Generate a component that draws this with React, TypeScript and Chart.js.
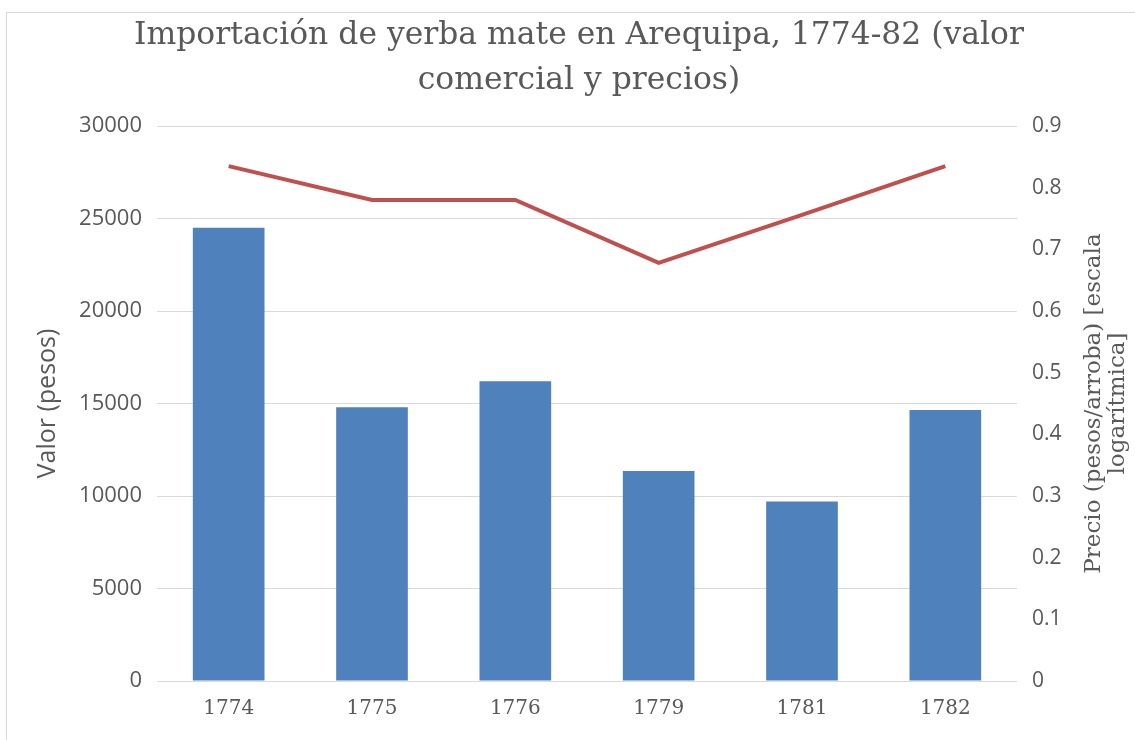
import React, { useEffect, useRef } from 'react';
import { Chart, registerables } from 'chart.js';

Chart.register(...registerables);

const categories = ['1774', '1775', '1776', '1779', '1781', '1782'];
const valorPesos = [24500, 14800, 16200, 11350, 9700, 14650];
const precio = [0.835, 0.78, 0.78, 0.678, 0.756, 0.835];
const titleLines = ['Importación de yerba mate en Arequipa, 1774-82 (valor', 'comercial y precios)'];
const leftTitle = 'Valor (pesos)';
const rightTitleLines = ['Precio (pesos/arroba) [escala', 'logarítmica]'];

const CANVAS_W = 1158;
const CANVAS_H = 740;
const AREA_LEFT = 157;
const AREA_RIGHT = 1017;
const AREA_BOTTOM = 681;
const GREY = '#595959';

const rightTitlePlugin = {
  id: 'rightTitle',
  afterDraw(chart: any) {
    const ctx = chart.ctx;
    const cy = (chart.chartArea.top + chart.chartArea.bottom) / 2;
    const xs = [1094, 1118];
    ctx.save();
    ctx.fillStyle = GREY;
    ctx.font = '23px "DejaVu Serif"';
    ctx.textAlign = 'center';
    ctx.textBaseline = 'middle';
    rightTitleLines.forEach((t, i) => {
      ctx.save();
      ctx.translate(xs[i], cy);
      ctx.rotate(-Math.PI / 2);
      ctx.fillText(t, 0, 0);
      ctx.restore();
    });
    ctx.restore();
  },
};

export default function App() {
  const ref = useRef<HTMLCanvasElement | null>(null);

  useEffect(() => {
    if (!ref.current) return;
    const chart = new Chart(ref.current, {
      type: 'bar',
      data: {
        labels: categories,
        datasets: [
          {
            type: 'line',
            label: 'Precio',
            data: precio,
            borderColor: '#c0504d',
            backgroundColor: '#c0504d',
            borderWidth: 4,
            pointRadius: 0,
            tension: 0,
            yAxisID: 'y1',
            order: 1,
          } as any,
          {
            type: 'bar',
            label: 'Valor',
            data: valorPesos,
            backgroundColor: '#4f81bd',
            barPercentage: 0.5,
            categoryPercentage: 1.0,
            yAxisID: 'y',
            order: 2,
          },
        ],
      },
      options: {
        animation: false,
        responsive: false,
        maintainAspectRatio: false,
        layout: { padding: 0 },
        plugins: {
          legend: { display: false },
          tooltip: { enabled: false },
          title: {
            display: true,
            text: titleLines,
            color: GREY,
            font: { family: '"DejaVu Serif"', size: 31.4, weight: 'normal', lineHeight: 45 / 31.4 },
            padding: { top: 13, bottom: 23 },
          },
        },
        scales: {
          x: {
            grid: { display: false, drawTicks: false },
            border: { display: false },
            ticks: { padding: 16, color: GREY, font: { family: '"DejaVu Serif"', size: 20 } },
            afterFit: (s: any) => { s.height = CANVAS_H - AREA_BOTTOM; },
          },
          y: {
            position: 'left',
            min: 0,
            max: 30000,
            ticks: {
              stepSize: 5000,
              padding: 15,
              color: GREY,
              font: { family: '"Open Sans"', size: 22 },
              callback: (v: any) => String(v),
            },
            grid: { color: '#d9d9d9', lineWidth: 1, drawTicks: false },
            border: { display: false },
            title: {
              display: true,
              text: leftTitle,
              color: GREY,
              font: { family: '"Open Sans"', size: 25 },
              padding: { top: 33, bottom: 0 },
            },
            afterFit: (s: any) => { s.width = AREA_LEFT; },
          },
          y1: {
            position: 'right',
            min: 0,
            max: 0.9,
            ticks: {
              stepSize: 0.1,
              padding: 15,
              color: GREY,
              font: { family: '"Open Sans"', size: 21 },
              callback: (v: any) => (Number(v) === 0 ? '0' : Number(v).toFixed(1)),
            },
            grid: { display: false, drawTicks: false },
            border: { display: false },
            afterFit: (s: any) => { s.width = CANVAS_W - AREA_RIGHT; },
          },
        },
      },
      plugins: [rightTitlePlugin],
    } as any);
    return () => chart.destroy();
  }, []);

  return (
    <div style={{ position: 'absolute', left: 0, top: 0, width: 1135, height: 740, overflow: 'hidden', background: '#fff' }}>
      <div style={{ position: 'absolute', left: 6, top: 12, width: 1300, height: 900, border: '1px solid #d9d9d9', boxSizing: 'border-box' }} />
      <canvas ref={ref} width={CANVAS_W} height={CANVAS_H} style={{ position: 'absolute', left: 0, top: 0, width: CANVAS_W, height: CANVAS_H }} />
    </div>
  );
}
